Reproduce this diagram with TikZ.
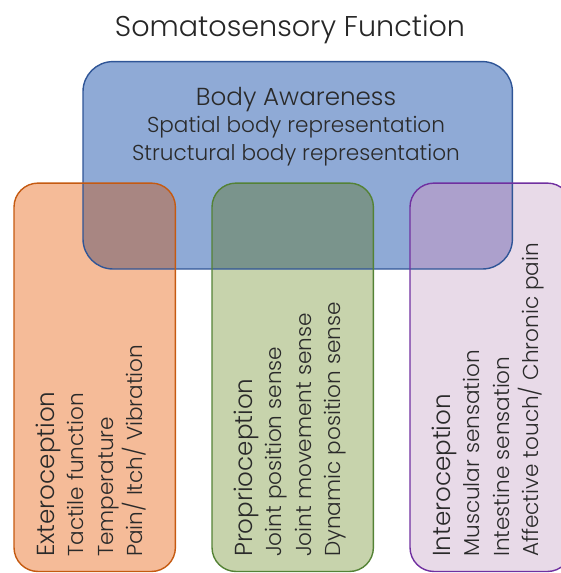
\documentclass[tikz,border=0pt]{standalone}
\usepackage{fontspec}
\setmainfont{Poppins}[UprightFont=* Light]
\usetikzlibrary{positioning}

\definecolor{awarefill}{RGB}{143,170,214}
\definecolor{awareline}{RGB}{47,85,151}
\definecolor{exterofill}{RGB}{245,187,152}
\definecolor{exteroline}{RGB}{197,90,17}
\definecolor{propriofill}{RGB}{199,211,172}
\definecolor{proprioline}{RGB}{84,130,53}
\definecolor{interofill}{RGB}{232,218,232}
\definecolor{interoline}{RGB}{112,48,160}
\definecolor{exteromix}{RGB}{168,134,130}
\definecolor{propriomix}{RGB}{122,148,140}
\definecolor{interomix}{RGB}{172,160,204}
\definecolor{inktext}{RGB}{42,42,42}

\begin{document}
\begin{tikzpicture}[x=1pt, y=1pt,
    box/.style={inner sep=0pt, anchor=south west},
    titletext/.style={font=\fontsize{28.6}{32}\selectfont, text=black!85, inner sep=0pt},
    headtext/.style={font=\fontsize{24.6}{28}\selectfont, text=inktext, inner sep=0pt},
    itemtext/.style={font=\fontsize{21.6}{25}\selectfont, text=inktext, inner sep=0pt},
    upright/.style={rotate=90, anchor=base west}]
            \clip (0,0) rectangle (561,573);

            % Boxes
            \node[box, minimum width=429pt, minimum height=207pt] (aware) at (83,304) {};
            \node[box, minimum width=161pt, minimum height=388pt] (extero) at (14,1.5) {};
            \node[box, minimum width=161pt, minimum height=388pt] (proprio) at (212,1.5) {};
            \node[box, minimum width=161pt, minimum height=388pt] (intero) at (410,1.5) {};

            \fill[awarefill, rounded corners=30pt] (aware.south west) rectangle (aware.north east);
            \fill[exterofill, rounded corners=24pt] (extero.south west) rectangle (extero.north east);
            \fill[propriofill, rounded corners=24pt] (proprio.south west) rectangle (proprio.north east);
            \fill[interofill, rounded corners=24pt] (intero.south west) rectangle (intero.north east);

            % Overlaps with Body Awareness
            \begin{scope}
                \clip[rounded corners=24pt] (extero.south west) rectangle (extero.north east);
                \fill[exteromix, rounded corners=30pt] (aware.south west) rectangle (aware.north east);
            \end{scope}
            \begin{scope}
                \clip[rounded corners=24pt] (proprio.south west) rectangle (proprio.north east);
                \fill[propriomix, rounded corners=30pt] (aware.south west) rectangle (aware.north east);
            \end{scope}
            \begin{scope}
                \clip[rounded corners=24pt] (intero.south west) rectangle (intero.north east);
                \fill[interomix, rounded corners=30pt] (aware.south west) rectangle (aware.north east);
            \end{scope}

            \draw[awareline, line width=1.4pt, rounded corners=30pt] (aware.south west) rectangle (aware.north east);
            \draw[exteroline, line width=1.4pt, rounded corners=24pt] (extero.south west) rectangle (extero.north east);
            \draw[proprioline, line width=1.4pt, rounded corners=24pt] (proprio.south west) rectangle (proprio.north east);
            \draw[interoline, line width=1.4pt, rounded corners=24pt] (intero.south west) rectangle (intero.north east);

            % Texts
            \node[titletext, anchor=base] (title) at (290,536) {Somatosensory Function};

            \node[headtext, anchor=base] (awarehead) at (296,467) {Body Awareness};
            \node[itemtext, anchor=base] (aware1) at ([yshift=-27pt]awarehead.base) {Spatial body representation};
            \node[itemtext, anchor=base] (aware2) at ([yshift=-28pt]aware1.base) {Structural body representation};

            \node[headtext, upright] (exterohead) at (54,16) {Exteroception};
            \node[itemtext, upright] (extero1) at ([xshift=29.5pt]exterohead.base west) {Tactile function};
            \node[itemtext, upright] (extero2) at ([xshift=29.5pt]extero1.base west) {Temperature};
            \node[itemtext, upright] (extero3) at ([xshift=29.5pt]extero2.base west) {Pain/ Itch/ Vibration};

            \node[headtext, upright] (propriohead) at (252,16) {Proprioception};
            \node[itemtext, upright] (proprio1) at ([xshift=29.5pt]propriohead.base west) {Joint position sense};
            \node[itemtext, upright] (proprio2) at ([xshift=29.5pt]proprio1.base west) {Joint movement sense};
            \node[itemtext, upright] (proprio3) at ([xshift=29.5pt]proprio2.base west) {Dynamic position sense};

            \node[headtext, upright] (interohead) at (450,16) {Interoception};
            \node[itemtext, upright] (intero1) at ([xshift=29.5pt]interohead.base west) {Muscular sensation};
            \node[itemtext, upright] (intero2) at ([xshift=29.5pt]intero1.base west) {Intestine sensation};
            \node[itemtext, upright] (intero3) at ([xshift=29.5pt]intero2.base west) {Affective touch/ Chronic pain};
        \end{tikzpicture}
\end{document}
